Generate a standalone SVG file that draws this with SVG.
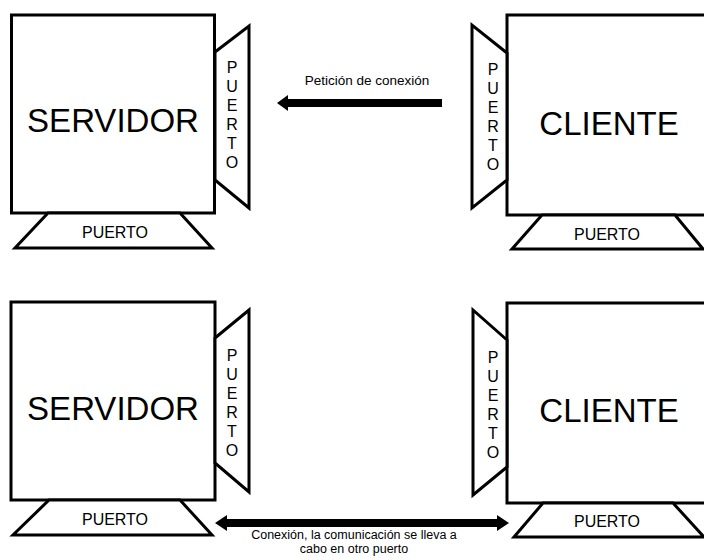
<svg xmlns="http://www.w3.org/2000/svg" width="704" height="560" viewBox="0 0 704 560">
<style>
.box{fill:#fff;stroke:#000;stroke-width:3;stroke-linejoin:miter}
.big{font-family:"Liberation Sans",Arial,sans-serif;font-size:33px;fill:#000;text-anchor:middle}
.port{font-family:"Liberation Sans",Arial,sans-serif;font-size:16px;fill:#000;text-anchor:middle}
.lbl{font-family:"Liberation Sans",Arial,sans-serif;font-size:13.5px;fill:#000;text-anchor:middle}
.lbl2{font-family:"Liberation Sans",Arial,sans-serif;font-size:12.5px;fill:#000;text-anchor:middle}
.arrow{fill:#000}
</style>
<rect width="704" height="560" fill="#fff"/>
<g id="servidor1">
<rect class="box" x="11.5" y="15" width="203" height="198"/>
<polygon class="box" points="215,52 249,26 249,208 215,180"/>
<polygon class="box" points="48,213 180,213 212,248 15,248"/>
<text class="big" x="113" y="132">SERVIDOR</text>
<text class="port" x="232" y="73">P<tspan x="232" dy="19">U</tspan><tspan x="232" dy="19">E</tspan><tspan x="232" dy="19">R</tspan><tspan x="232" dy="19">T</tspan><tspan x="232" dy="19">O</tspan></text>
<text class="port" x="115" y="238">PUERTO</text>
</g>
<g id="cliente1">
<rect class="box" x="507" y="15" width="210" height="200"/>
<polygon class="box" points="507,53 472,25 472,208 507,180"/>
<polygon class="box" points="542,215 675,215 703,249 512,249"/>
<text class="big" x="609" y="135">CLIENTE</text>
<text class="port" x="493" y="75">P<tspan x="493" dy="19">U</tspan><tspan x="493" dy="19">E</tspan><tspan x="493" dy="19">R</tspan><tspan x="493" dy="19">T</tspan><tspan x="493" dy="19">O</tspan></text>
<text class="port" x="607" y="240">PUERTO</text>
</g>
<g id="servidor2">
<rect class="box" x="11" y="302" width="204" height="198"/>
<polygon class="box" points="215,338 249,310 249,492 215,463"/>
<polygon class="box" points="49,500 180,500 212,535 13,535"/>
<text class="big" x="113" y="420">SERVIDOR</text>
<text class="port" x="232" y="361">P<tspan x="232" dy="19">U</tspan><tspan x="232" dy="19">E</tspan><tspan x="232" dy="19">R</tspan><tspan x="232" dy="19">T</tspan><tspan x="232" dy="19">O</tspan></text>
<text class="port" x="115" y="525">PUERTO</text>
</g>
<g id="cliente2">
<rect class="box" x="507" y="303" width="210" height="200"/>
<polygon class="box" points="507,340 473,310 473,495 507,467"/>
<polygon class="box" points="543,503 673,503 704,537 514,537"/>
<text class="big" x="609" y="422">CLIENTE</text>
<text class="port" x="493" y="363">P<tspan x="493" dy="19">U</tspan><tspan x="493" dy="19">E</tspan><tspan x="493" dy="19">R</tspan><tspan x="493" dy="19">T</tspan><tspan x="493" dy="19">O</tspan></text>
<text class="port" x="607" y="527">PUERTO</text>
</g>
<g id="connectors">
<polygon class="arrow" points="442,99 288,99 288,95 277,103 288,111 288,107 442,107"/>
<text class="lbl" x="367" y="85">Petición de conexión</text>
<polygon class="arrow" points="215,523 227,515 227,519 497,519 497,515 509,523 497,531 497,527 227,527 227,531"/>
<text class="lbl2" x="354" y="539">Conexión, la comunicación se lleva a</text>
<text class="lbl2" x="354" y="553">cabo en otro puerto</text>
</g>
</svg>
